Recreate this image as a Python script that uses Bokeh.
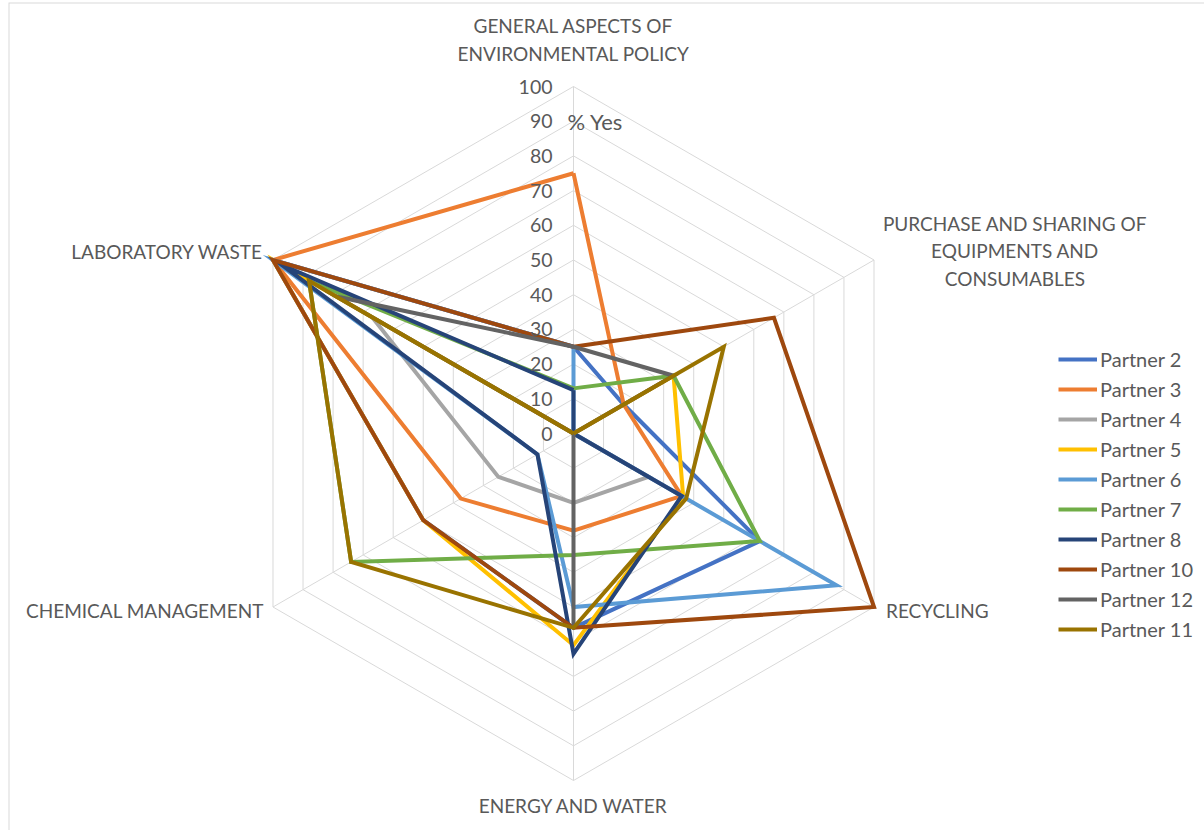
import numpy as np
from bokeh.plotting import figure
from bokeh.models import Range1d, Legend, LegendItem
from bokeh.embed import file_html
from bokeh.resources import INLINE
from bokeh.core.properties import value

# ---------------- data ----------------
categories = [
    "GENERAL ASPECTS OF\nENVIRONMENTAL POLICY",
    "PURCHASE AND SHARING OF\nEQUIPMENTS AND\nCONSUMABLES",
    "RECYCLING",
    "ENERGY AND WATER",
    "CHEMICAL MANAGEMENT",
    "LABORATORY WASTE",
]
tick_values = [0, 10, 20, 30, 40, 50, 60, 70, 80, 90, 100]
tick_labels = ["0", "10", "20", "30", "40", "50", "60", "70", "80", "90", "100"]
axis_title = "% Yes"

partners = ["Partner 2", "Partner 3", "Partner 4", "Partner 5", "Partner 6",
            "Partner 7", "Partner 8", "Partner 10", "Partner 12", "Partner 11"]
partner_2 = [25, 16.7, 62, 56, 50, 100]
partner_3 = [75, 16.7, 36, 28, 37.5, 100]
partner_4 = [0, 0, 25, 20, 25, 67]
partner_5 = [0, 33.3, 36.5, 61, 50, 100]
partner_6 = [25, 0, 87.5, 50, 12, 100]
partner_7 = [13, 33.3, 62, 35, 74, 88]
partner_8 = [12.5, 0, 36, 63.5, 12, 97]
partner_10 = [25, 66.7, 100, 56, 50, 100]
partner_12 = [25, 33.3, 0, 56, 0, 79]
partner_11 = [0, 50, 37.5, 56, 74, 88]
series = [partner_2, partner_3, partner_4, partner_5, partner_6,
          partner_7, partner_8, partner_10, partner_12, partner_11]
colors = ["#4472C4", "#ED7D31", "#A5A5A5", "#FFC000", "#5B9BD5",
          "#70AD47", "#264478", "#9E480E", "#636363", "#997300"]

# ---------------- layout ----------------
W, H = 1204, 830
CX, CY = 573, 433          # pixel centre of radar
PX = 3.47                  # pixels per unit
BL, BT = 8, 2              # chart border offsets

n = len(categories)
ang = np.pi / 2 - np.arange(n) * 2 * np.pi / n

def polar(vals):
    v = np.asarray(vals, dtype=float)
    return list(v * np.cos(ang)), list(v * np.sin(ang))

p = figure(width=W, height=H, output_backend="svg", toolbar_location=None,
           x_range=Range1d(-(CX - BL) / PX, (W - CX) / PX),
           y_range=Range1d(-(H - CY) / PX, (CY - BT) / PX),
           min_border_left=BL, min_border_top=BT, min_border_right=0, min_border_bottom=0)
p.axis.visible = False
p.grid.visible = False
p.outline_line_color = None
p.background_fill_color = "white"
p.border_fill_color = "white"

GRID = "#d9d9d9"
TXT = "#595959"
FONT = "Lato"

# chart border (left and top)
xr, yr = p.x_range, p.y_range
p.line([xr.start, xr.start, xr.end], [yr.start, yr.end, yr.end], line_color=GRID, line_width=2)

# hexagonal grid
gx, gy = [], []
for t in tick_values[1:]:
    xs, ys = polar([t] * n)
    gx.append(xs + xs[:1]); gy.append(ys + ys[:1])
p.multi_line(gx, gy, line_color=GRID, line_width=1)
sx, sy = polar([tick_values[-1]] * n)
p.segment([0] * n, [0] * n, sx, sy, line_color=GRID, line_width=1)

# series
renderers = []
for vals, col in zip(series, colors):
    xs, ys = polar(vals)
    r = p.line(xs + xs[:1], ys + ys[:1], line_color=col, line_width=4, line_join="miter")
    renderers.append(r)

# tick labels
p.text([0] * len(tick_values), tick_values, text=tick_labels, x_offset=-21,
       text_align="right", text_baseline="middle", text_font=value(FONT),
       text_font_size="19.5px", text_color=TXT)
p.text([0], [tick_values[9]], text=[axis_title], x_offset=-6,
       text_align="left", text_baseline="middle", text_font=value(FONT),
       text_font_size="22px", text_color=TXT)

# category labels
lx, ly = polar([tick_values[-1]] * n)
aligns = ["center", "center", "left", "center", "right", "right"]
xoffs = [0, 141, 12, 0, -9, -10]
yoffs = [-47, -9, 3, 25, 3, -9]
for i in range(n):
    p.text([lx[i]], [ly[i]], text=[categories[i]], x_offset=xoffs[i], y_offset=yoffs[i],
           text_align=aligns[i], text_baseline="middle", text_font=value(FONT),
           text_font_size="19px", text_color=TXT, text_line_height=1.2)

# legend
items = [LegendItem(label=nm, renderers=[r]) for nm, r in zip(partners, renderers)]
leg = Legend(items=items, location=(1058 - BL, H - (347 + 294)), orientation="vertical",
             glyph_width=39, glyph_height=24, label_height=24, spacing=6,
             label_standoff=3, padding=0, margin=0, border_line_color=None,
             background_fill_alpha=0, label_text_font=FONT, label_text_font_size="20px",
             label_text_color=TXT)
p.add_layout(leg)

open("out.html", "w").write(file_html(p, INLINE))
